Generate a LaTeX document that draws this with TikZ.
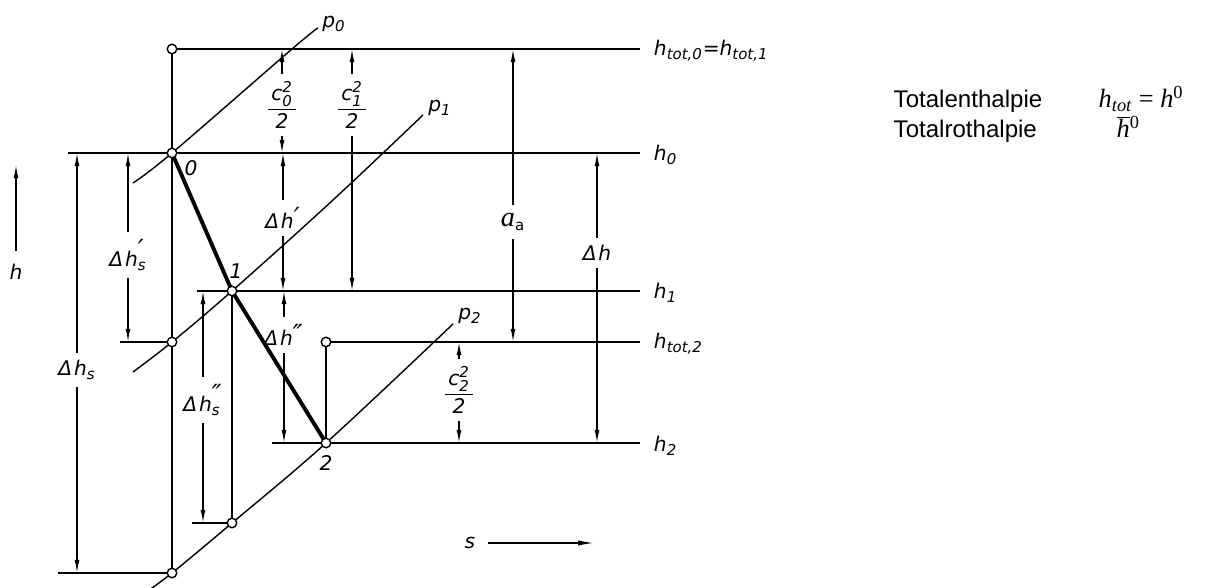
\documentclass[tikz,border=0pt]{standalone}
\usepackage{fontspec}
\setmainfont{Liberation Sans}
\newfontfamily\lblfam{DejaVu Sans Oblique}
\newfontfamily\tmsfam{Liberation Serif}
\usetikzlibrary{arrows.meta}
\newcommand\lblfont{\fontsize{11.5}{13}\selectfont\lblfam}
\newcommand\smlbl{\fontsize{8.5}{9}\selectfont\lblfam}
\newcommand\ssc[2]{\ensuremath{{}^{\hbox{\smlbl #1}}_{\hbox{\smlbl #2}}}}
\newcommand\sbs[1]{\ensuremath{{}_{\hbox{\smlbl #1}}}}
\newcommand\prm{\hbox{\fontsize{15}{15}\selectfont\lblfam ′}}
\newcommand\dprm{\hbox{\fontsize{15}{15}\selectfont\lblfam ″}}
\newcommand\psb[2]{\ensuremath{{}^{\raise-4pt\hbox{#1}}_{\hbox{\smlbl #2}}}}
\newcommand\pso[1]{\ensuremath{{}^{\raise-4pt\hbox{#1}}}}
\newcommand\frc[1]{\ensuremath{\displaystyle\frac{\hbox{\,#1\,}}{\hbox{2}}}}
\newcommand\vdim[6]{%
  \node[lbl] (#1) at (#2,#3) {#6};
  \draw[dim] (#1.north) -- (#1.north |- #4);
  \draw[dim] (#1.south) -- (#1.south |- #5);
}
\begin{document}
\begin{tikzpicture}[x=0.02cm,y=-0.02cm, line width=0.8pt,
  lbl/.style={font=\lblfont, inner sep=3pt},
  dim/.style={-{Latex[length=7.5pt,width=2.8pt]}, shorten <=1pt},
  pt/.style={circle, draw, fill=white, inner sep=0pt, minimum size=0.19cm, line width=0.8pt},
  heavy/.style={line width=2.2pt},
  txt/.style={font=\fontsize{13.7}{16}\selectfont, anchor=base west, inner sep=0pt},
  ]
\useasboundingbox (0,0) rectangle (1225,588);
% levels
\coordinate (Ytop) at (0,49);
\coordinate (Y0) at (0,153);
\coordinate (Y1) at (0,291);
\coordinate (Yt2) at (0,342);
\coordinate (Y2) at (0,443);
\coordinate (Yc) at (0,523);
\coordinate (Yb) at (0,573);
% state points
\coordinate (Ptop) at (172,49);
\coordinate (P0) at (172,153);
\coordinate (Pa) at (172,342);
\coordinate (Pb) at (172,573);
\coordinate (P1) at (232,291);
\coordinate (Pc) at (232,523);
\coordinate (P2) at (326,443);
\coordinate (Pt2) at (326,342);
% line ends
\coordinate (Etop) at (640,49);
\coordinate (L0) at (68,153);   \coordinate (E0) at (640,153);
\coordinate (L1) at (197,291);  \coordinate (E1) at (640,291);
\coordinate (La) at (120,342);  \coordinate (Et2) at (640,342);
\coordinate (L2) at (272,443);  \coordinate (E2) at (640,443);
\coordinate (Lc) at (192,523);
\coordinate (Lb) at (58,573);
% horizontal lines
\draw (Ptop) -- (Etop);
\draw (L0) -- (E0);
\draw (L1) -- (E1);
\draw (La) -- (Pa);
\draw (Pt2) -- (Et2);
\draw (L2) -- (E2);
\draw (Lc) -- (Pc);
\draw (Lb) -- (Pb);
% verticals
\draw (Ptop) -- (Pb);
\draw (P1) -- (Pc);
\draw (Pt2) -- (P2);
% isobars
\draw plot[smooth, tension=0.6] coordinates {(133,183) (172,153) (292,49) (318,28)};
\draw plot[smooth, tension=0.6] coordinates {(133,372) (172,342) (232,291) (333,200) (423,115)};
\draw plot[smooth, tension=0.6] coordinates {(146,592) (172,573) (232,523) (326,443) (453,324)};
% process
\draw[heavy, line join=round] (P0) -- (P1) -- (P2);
% points
\foreach \p in {Ptop,P0,Pa,Pb,P1,Pc,P2,Pt2} \node[pt] (c\p) at (\p) {};
% point and isobar labels
\node[lbl] (n0) at (191,168) {0};
\node[lbl] (n1) at (236,271) {1};
\node[lbl] (n2) at (326,463) {2};
\node[lbl] (lp0) at (334,24) {p\sbs{0}};
\node[lbl] (lp1) at (440,108) {p\sbs{1}};
\node[lbl] (lp2) at (470,316) {p\sbs{2}};
% level labels
\node[lbl, anchor=west] (lhtop) at (648,51) {h\sbs{tot,0}=h\sbs{tot,1}};
\node[lbl, anchor=west] (lh0) at (648,155) {h\sbs{0}};
\node[lbl, anchor=west] (lh1) at (648,293) {h\sbs{1}};
\node[lbl, anchor=west] (lht2) at (648,344) {h\sbs{tot,2}};
\node[lbl, anchor=west] (lh2) at (648,446) {h\sbs{2}};
% dimensions
\vdim{dHs}{77}{370}{Y0}{Yb}{Δ\kern1pt h\sbs{s}}
\vdim{dHs1}{128}{255}{Y0}{Yt2}{Δ\kern1pt h\psb{\prm}{s}}
\vdim{dHs2}{203}{400}{Y1}{Yc}{Δ\kern1pt h\psb{\dprm}{s}}
\vdim{dc0}{282}{105}{Ytop}{Y0}{\frc{c\ssc{2}{0}}}
\vdim{dH1}{283}{218}{Y0}{Y1}{Δ\kern1pt h\pso{\prm}}
\vdim{dH2}{284}{335}{Y1}{Y2}{Δ\kern1pt h\pso{\dprm}}
\vdim{dc1}{352}{105}{Ytop}{Y1}{\frc{c\ssc{2}{1}}}
\vdim{dc2}{459}{390}{Yt2}{Y2}{\frc{c\ssc{2}{2}}}
\vdim{daa}{513}{222}{Ytop}{Yt2}{\fontsize{16}{17}\selectfont\tmsfam\itshape a\sbs{a}}
\vdim{dH}{597}{253}{Y0}{Y2}{Δ\kern1pt h}
% axes
\node[lbl] (hax) at (16,272) {h};
\coordinate (hTop) at (16,165);
\draw[dim, shorten <=4pt] (hax.north) -- (hTop);
\node[lbl] (sax) at (470,543) {s};
\coordinate (sEnd) at (594,543);
\draw[-{Latex[length=9pt,width=3pt]}, shorten <=4pt] (sax.east) -- (sEnd);
% legend
\node[txt] (t1) at (893,108) {Totalenthalpie};
\node[txt] (t1f) at (1098,108) {\fontsize{15}{17}\selectfont\tmsfam\itshape h\textsubscript{tot}\upshape\ =\ \itshape h\textsuperscript{\upshape 0}};
\node[txt] (t2) at (893,138) {Totalrothalpie};
\node[txt] (t2f) at (1116,138) {\fontsize{15}{17}\selectfont\tmsfam\itshape\ensuremath{\overline{\hbox{h}}}\textsuperscript{\upshape 0}};
\end{tikzpicture}
\end{document}
